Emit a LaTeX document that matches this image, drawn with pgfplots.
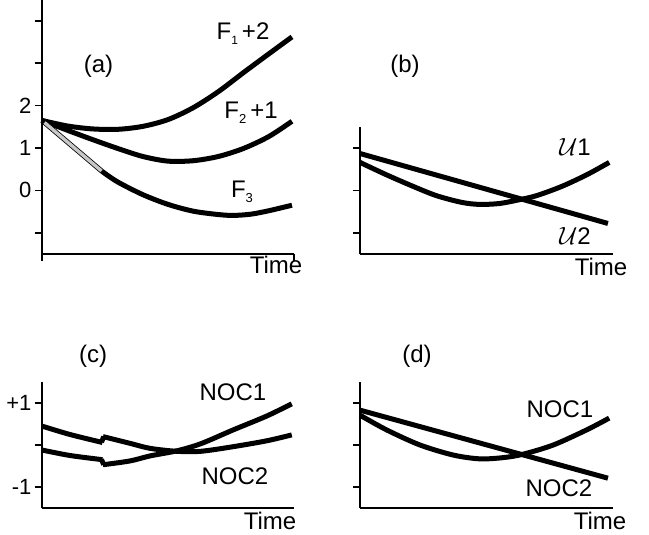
\documentclass[border=0pt]{standalone}
\usepackage{fontspec}
\setmainfont{Liberation Sans}
\usepackage{pgfplots}
\pgfplotsset{compat=1.18}
\begin{document}
\begin{tikzpicture}
\useasboundingbox (0pt,0pt) rectangle (649pt,535pt);
\pgfplotsset{
  panel/.style={scale only axis, axis lines=left,
    axis line style={-, line width=1.5pt, black},
    xmin=0, xmax=10, xtick=\empty,
    tick style={line width=1.5pt, black}, tick align=outside,
    major tick length=7pt,
    ytick={-1,0,1}, yticklabels={,,},
    ticklabel style={font=\fontsize{22}{22}\selectfont},
    /pgf/number format/assume math mode=true,
    clip=false, anchor=south west},
  curve/.style={line width=5pt, black, smooth, no marks},
}
\tikzset{lab/.style={font=\fontsize{24}{24}\selectfont, inner sep=0pt}}
% ---------------- (a)
\begin{axis}[panel, at={(42pt,281pt)}, width=252pt, height=254.4pt,
  ymin=-1.5, ymax=4.5, ytick={-1,0,1,2,3,4}, yticklabels={,0,1,2,,},
  xtick={0,10}, xticklabels={,}]
\addplot[curve] coordinates {(0,1.65) (1,1.52) (2,1.45) (3,1.44) (4,1.51) (5,1.67) (6,1.95) (7,2.33) (8,2.78) (9,3.22) (9.92,3.62)};
\addplot[curve] coordinates {(0,1.65) (1,1.42) (2,1.20) (3,0.99) (4,0.80) (5,0.69) (6,0.70) (7,0.80) (8,0.99) (9,1.27) (9.92,1.63)};
\addplot[line width=5pt, black, no marks] coordinates {(0,1.65) (2.38,0.45)};
\addplot[line width=3.4pt, black!22, no marks] coordinates {(0.1,1.60) (2.36,0.46)};
\addplot[curve] coordinates {(2.38,0.45) (3,0.20) (4,-0.10) (5,-0.33) (6,-0.49) (7,-0.57) (7.6,-0.59) (8.3,-0.56) (9,-0.48) (9.92,-0.35)};
\end{axis}
% ---------------- (b)
\begin{axis}[panel, at={(360pt,281pt)}, width=253pt, height=127.2pt,
  ymin=-1.5, ymax=1.5]
\addplot[line width=5pt, black, no marks] coordinates {(0,0.87) (9.8,-0.78)};
\addplot[curve] coordinates {(0,0.66) (1,0.38) (2,0.12) (3,-0.12) (4,-0.28) (4.7,-0.33) (5.5,-0.31) (6.3,-0.22) (7,-0.12) (8,0.10) (9,0.38) (9.85,0.66)};
\end{axis}
% ---------------- (c)
\begin{axis}[panel, at={(42pt,27pt)}, width=252pt, height=126pt,
  ymin=-1.5, ymax=1.5, yticklabels={-1,,+1}]
\addplot[curve] coordinates {(0,0.45) (1.11,0.25) (2.4,0.06)};
\addplot[line width=5pt, black, no marks] coordinates {(2.36,0.065) (2.45,0.2)};
\addplot[curve] coordinates {(2.42,0.2) (3.49,0.04) (4.29,-0.08) (5.34,-0.15) (6.3,-0.15) (7.59,-0.04) (8.92,0.10) (9.91,0.24)};
\addplot[curve] coordinates {(0,-0.12) (1.11,-0.25) (2.4,-0.35)};
\addplot[line width=5pt, black, no marks] coordinates {(2.36,-0.345) (2.45,-0.47)};
\addplot[curve] coordinates {(2.42,-0.47) (3.49,-0.38) (4.29,-0.26) (5.34,-0.14) (6.3,0.03) (7.59,0.36) (8.92,0.69) (9.91,0.98)};
\end{axis}
% ---------------- (d)
\begin{axis}[panel, at={(360pt,27pt)}, width=253pt, height=126pt,
  ymin=-1.5, ymax=1.5]
\addplot[line width=5pt, black, no marks] coordinates {(0,0.83) (9.8,-0.79)};
\addplot[curve] coordinates {(0,0.71) (1.05,0.36) (2.37,0.0) (3.69,-0.24) (4.74,-0.33) (5.67,-0.30) (6.44,-0.22) (7.64,0.0) (8.96,0.36) (9.85,0.64)};
\end{axis}
% ---------------- labels
\node[lab] at (98.5pt,469pt) {(a)};
\node[lab] at (243pt,501pt) {F\raisebox{-5pt}{\fontsize{12}{12}\selectfont 1}\hspace{4pt}+2};
\node[lab] at (251pt,422pt) {F\raisebox{-5pt}{\fontsize{13}{13}\selectfont 2}\hspace{4pt}+1};
\node[lab] at (242pt,343pt) {F\raisebox{-5pt}{\fontsize{13}{13}\selectfont 3}};
\node[lab] at (276pt,270pt) {Time};
\node[lab] at (405pt,469pt) {(b)};
\node[lab] at (575pt,388pt) {$\mathcal{U}$1};
\node[lab] at (575pt,299pt) {$\mathcal{U}$2};
\node[lab] at (601pt,268pt) {Time};
\node[lab] at (93pt,179pt) {(c)};
\node[lab] at (233pt,143pt) {NOC1};
\node[lab] at (235pt,59pt) {NOC2};
\node[lab] at (270pt,14pt) {Time};
\node[lab] at (417pt,179pt) {(d)};
\node[lab] at (560pt,126pt) {NOC1};
\node[lab] at (559pt,47pt) {NOC2};
\node[lab] at (600pt,14pt) {Time};
\end{tikzpicture}
\end{document}
